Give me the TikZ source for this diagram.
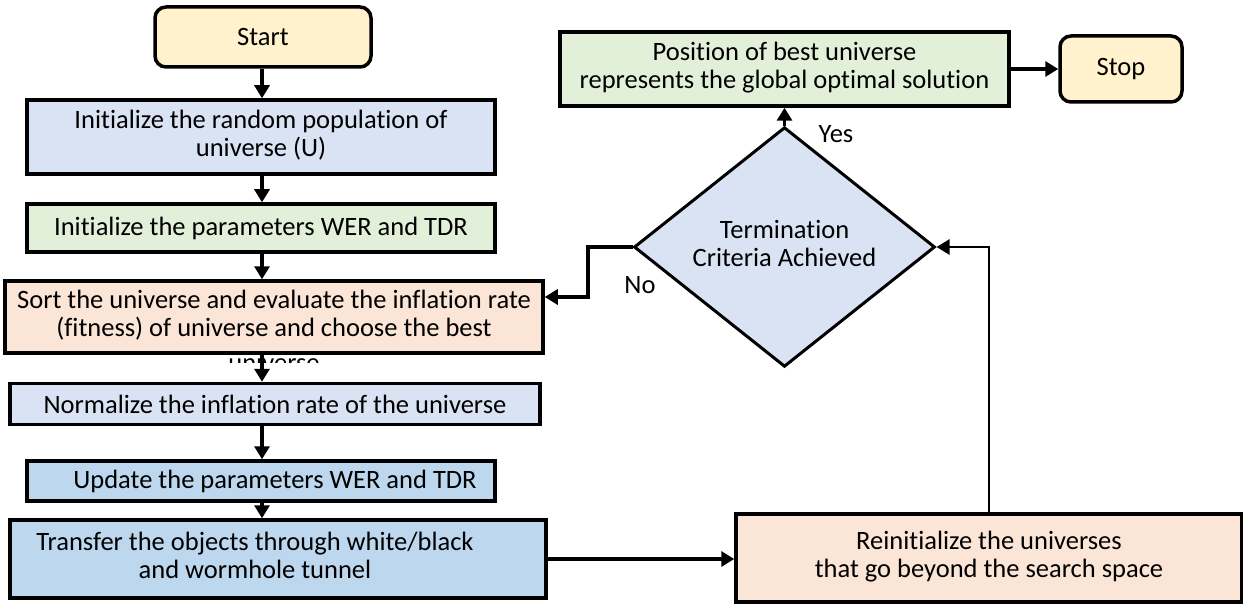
\documentclass[tikz,border=0pt]{standalone}
\usepackage{fontspec}
\setmainfont{Carlito}[Ligatures=NoCommon]
\usetikzlibrary{arrows.meta,shapes.geometric}
\definecolor{termfill}{HTML}{FFF2CC}
\definecolor{bluefill}{HTML}{DAE3F3}
\definecolor{greenfill}{HTML}{E2F0D9}
\definecolor{peachfill}{HTML}{FBE5D6}
\definecolor{skyfill}{HTML}{BDD7EE}
\begin{document}
\begin{tikzpicture}[x=1pt,y=-1pt,
  font=\fontsize{26.5}{28}\selectfont,
  box/.style={draw=black, line width=3.5pt, rectangle, inner sep=0pt, align=center},
  termbox/.style={box, rounded corners=11pt, fill=termfill},
  decision/.style={draw=black, line width=3pt, diamond, inner sep=0pt, fill=bluefill},
  flow/.style={line width=3.4pt, -{Triangle[width=15pt,length=13pt]}},
]
\useasboundingbox (0,0) rectangle (1243,607);

% left column of process steps
\node[termbox, minimum width=216pt, minimum height=60pt] (start) at (263,37) {Start};
\node[box, fill=bluefill, minimum width=468pt, minimum height=74pt] (init) at (261,137)
  {\raisebox{-5pt}{\begin{tabular}{@{}c@{}}Initialize the random population of\\universe (U)\end{tabular}}};
\node[box, fill=greenfill, minimum width=468pt, minimum height=48pt] (params) at (261,228)
  {Initialize the parameters WER and TDR};
\node[box, fill=peachfill, minimum width=538pt, minimum height=72pt] (sort) at (274,317)
  {\raisebox{-4pt}{\begin{tabular}{@{}c@{}}Sort the universe and evaluate the inflation rate\\(fitness) of universe and choose the best\end{tabular}}};
\node[box, fill=bluefill, minimum width=530pt, minimum height=41pt] (norm) at (275,404)
  {Normalize the inflation rate of the universe};
\node[box, fill=skyfill, minimum width=468pt, minimum height=40pt] (update) at (261,481)
  {\hspace*{28pt}Update the parameters WER and TDR};
\node[box, fill=skyfill, minimum width=536pt, minimum height=78pt] (transfer) at (278,559)
  {\raisebox{-12pt}{\begin{tabular}{@{}c@{}}Transfer the objects through white/black\\and wormhole tunnel\end{tabular}}\hspace*{46pt}};

% overflowing last word of the sorting step, cut off below its box
\begin{scope}
  \clip (200,357) rectangle (340,362.5);
  \node[anchor=base, inner sep=0pt] (overflow) at (274,371) {universe};
\end{scope}

% right part: decision, result, stop and re-initialisation
\node[box, fill=greenfill, minimum width=449pt, minimum height=74pt] (pos) at (784.5,69)
  {\begin{tabular}{@{}c@{}}Position of best universe\\represents the global optimal solution\end{tabular}};
\node[termbox, minimum width=122pt, minimum height=66pt] (stop) at (1121,69) {Stop};
\node[decision, minimum width=301pt, minimum height=216pt] (dec) at (784.5,247)
  {\raisebox{8pt}{\begin{tabular}{@{}c@{}}Termination\\Criteria Achieved\end{tabular}}};
\node[box, fill=peachfill, minimum width=506pt, minimum height=88pt] (reinit) at (989,558)
  {\raisebox{-4pt}{\begin{tabular}{@{}c@{}}Reinitialize the universes\\that go beyond the search space\end{tabular}}};

\node (yes) at (836,134) {Yes};
\node (no) at (640,285) {No};

% connectors
\coordinate (col) at (262,0);
\coordinate (nobend) at (588,297);
\draw[flow] (start.south -| col) -- (init.north -| col);
\draw[flow] (init.south -| col) -- (params.north -| col);
\draw[flow] (params.south -| col) -- (sort.north -| col);
\draw[flow] (sort.south -| col) -- (norm.north -| col);
\draw[flow] (norm.south -| col) -- (update.north -| col);
\draw[flow] (update.south -| col) -- (transfer.north -| col);
\draw[flow] (transfer.east) -- (reinit.west |- transfer.east);
\draw[flow, line width=2.6pt] (reinit.north) |- (dec.east);
\draw[flow] (dec.north) -- (pos.south);
\draw[flow] (pos.east) -- (stop.west);
\draw[flow] (dec.west) -| (nobend) -- (sort.east |- nobend);
\end{tikzpicture}
\end{document}
